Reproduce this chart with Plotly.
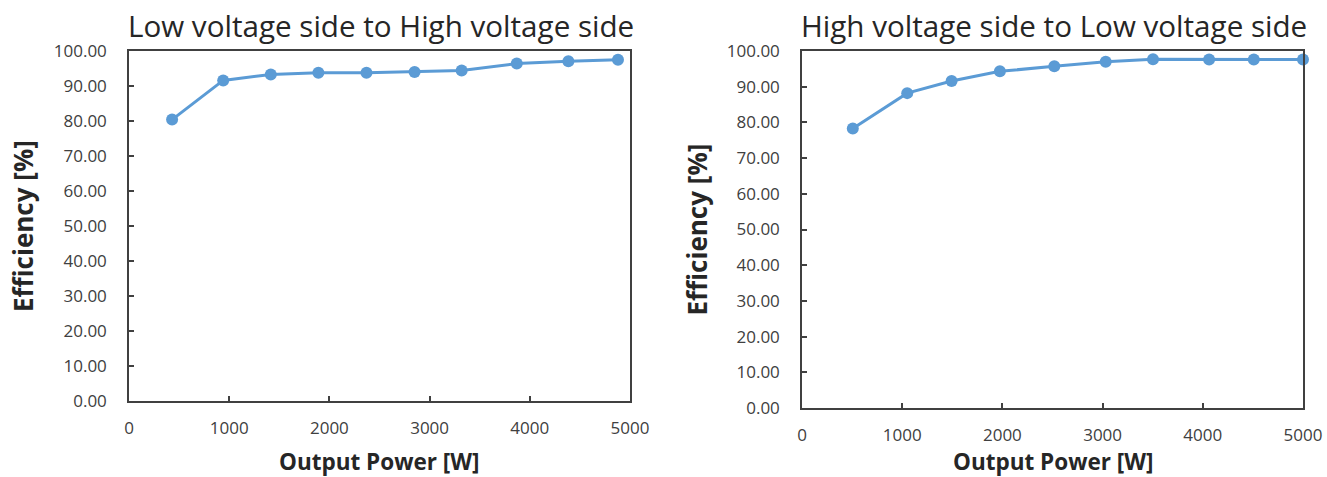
import plotly.graph_objects as go

# Left chart: Low voltage side to High voltage side
lv_power = [430, 940, 1415, 1890, 2370, 2850, 3320, 3870, 4385, 4880]
lv_eff = [80.4, 91.6, 93.3, 93.8, 93.8, 94.0, 94.4, 96.4, 97.1, 97.5]

# Right chart: High voltage side to Low voltage side
hv_power = [507, 1050, 1493, 1975, 2518, 3031, 3503, 4063, 4509, 5000]
hv_eff = [78.3, 88.2, 91.6, 94.3, 95.7, 97.0, 97.7, 97.6, 97.6, 97.6]

titles = ["Low voltage side to High voltage side", "High voltage side to Low voltage side"]
x_title = "Output Power [W]"
y_title = "Efficiency [%]"
x_ticks = [0, 1000, 2000, 3000, 4000, 5000]
y_ticks = [0, 10, 20, 30, 40, 50, 60, 70, 80, 90, 100]

W, H = 1327, 477
color = "#5B9BD5"
font = "Open Sans"
txt = "#404040"

fig = go.Figure()
fig.add_trace(go.Scatter(x=lv_power, y=lv_eff, mode="lines+markers",
                         line=dict(color=color, width=3),
                         marker=dict(color=color, size=12),
                         xaxis="x", yaxis="y", showlegend=False, cliponaxis=False))
fig.add_trace(go.Scatter(x=hv_power, y=hv_eff, mode="lines+markers",
                         line=dict(color=color, width=3),
                         marker=dict(color=color, size=12),
                         xaxis="x2", yaxis="y2", showlegend=False, cliponaxis=False))

# plot areas in pixels
L = dict(x0=129, x1=630, y0=51, y1=401)
R = dict(x0=802, x1=1303, y0=51, y1=408)

def xdom(p):
    return [p["x0"] / W, p["x1"] / W]

def ydom(p):
    return [1 - p["y1"] / H, 1 - p["y0"] / H]

axis_common = dict(showline=True, linecolor="#404040", linewidth=1.5, mirror=True,
                   ticks="inside", ticklen=5, tickcolor="#404040", tickwidth=1.5,
                   showgrid=False, zeroline=False, automargin=False,
                   tickfont=dict(family=font, size=17, color=txt))

fig.update_layout(
    width=W, height=H,
    margin=dict(l=0, r=0, t=0, b=0, autoexpand=False),
    paper_bgcolor="white", plot_bgcolor="white",
    xaxis=dict(domain=xdom(L), range=[0, 5000], tickvals=x_ticks, anchor="y",
               ticklabelstandoff=11, **axis_common),
    yaxis=dict(domain=ydom(L), range=[0, 100], tickvals=y_ticks, tickformat=".2f", anchor="x",
               ticklabelstandoff=17, **axis_common),
    xaxis2=dict(domain=xdom(R), range=[0, 5000], tickvals=x_ticks, anchor="y2",
                ticklabelstandoff=11, **axis_common),
    yaxis2=dict(domain=ydom(R), range=[0, 100], tickvals=y_ticks, tickformat=".2f", anchor="x2",
                ticklabelstandoff=17, **axis_common),
)

ann = []
for p, t in [(L, titles[0]), (R, titles[1])]:
    ann.append(dict(text=t, x=(p["x0"] - 3) / W, y=1 - 26 / H, xref="paper", yref="paper",
                    xanchor="left", yanchor="middle", showarrow=False,
                    font=dict(family=font, size=29.6, color="#262626")))
    ann.append(dict(text="<b>" + x_title + "</b>", x=(p["x0"] + p["x1"]) / 2 / W,
                    y=1 - 461 / H, xref="paper", yref="paper",
                    xanchor="center", yanchor="middle", showarrow=False,
                    font=dict(family=font, size=22.5, color="#262626")))
    ann.append(dict(text="<b>" + y_title + "</b>", x=(p["x0"] - 106) / W,
                    y=1 - ((p["y0"] + p["y1"]) / 2) / H, xref="paper", yref="paper",
                    xanchor="center", yanchor="middle", showarrow=False, textangle=-90,
                    font=dict(family=font, size=26, color="#262626")))
fig.update_layout(annotations=ann)

fig.write_html("out.html", config={"displayModeBar": False},
               post_script="document.body.style.margin='0';document.body.style.overflow='hidden';")
